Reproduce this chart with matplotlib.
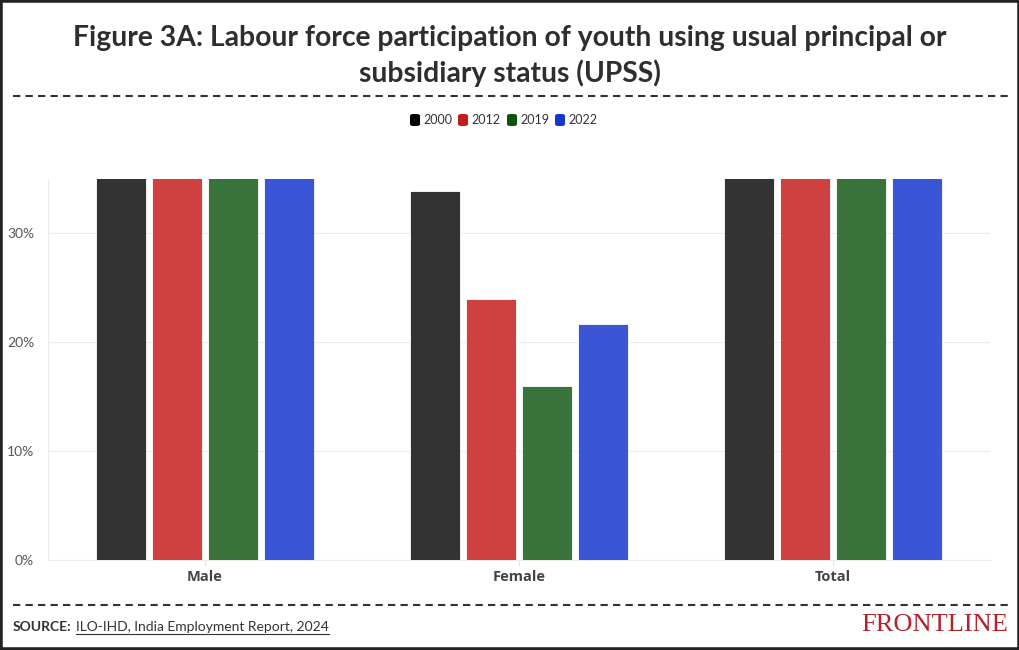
import matplotlib
matplotlib.use("Agg")
import matplotlib.pyplot as plt
import numpy as np
from matplotlib.lines import Line2D
from matplotlib.patches import Rectangle, FancyBboxPatch

categories = ["Male", "Female", "Total"]
years = ["2000", "2012", "2019", "2022"]
# values in percent (Male/Total exceed the 35% axis ceiling and are clipped)
lfpr_2000 = [61.5, 33.9, 47.6]
lfpr_2012 = [55.6, 24.0, 40.2]
lfpr_2019 = [56.2, 16.0, 36.9]
lfpr_2022 = [61.2, 21.7, 41.8]
series = [lfpr_2000, lfpr_2012, lfpr_2019, lfpr_2022]
yticks = [0, 10, 20, 30]

bar_colors = ["#333333", "#cf4141", "#3a733b", "#3a56d6"]
legend_colors = ["#000000", "#c41c1c", "#0b520b", "#1236cf"]

W, H = 1020, 650
fig = plt.figure(figsize=(W / 100, H / 100), dpi=100)
fig.patch.set_facecolor("white")

def fx(x): return x / W
def fy(y): return 1 - y / H

ax = fig.add_axes([fx(48), fy(560), fx(990) - fx(48), fy(179) - fy(560)])
x = np.arange(len(categories))
step = 0.1775
width = 0.159
for i, vals in enumerate(series):
    ax.bar(x + (i - 1.5) * step, vals, width=width, color=bar_colors[i],
           edgecolor="white", linewidth=0.6, zorder=3)
ax.set_xlim(-0.5, 2.5)
ax.set_ylim(0, 35)
ax.set_yticks(yticks)
ax.set_yticklabels([f"{v}%" for v in yticks], fontsize=10, color="#555555",
                   family=["Lato", "DejaVu Sans"])
ax.set_xticks(x)
ax.set_xticklabels(categories, fontsize=10.5, fontweight="bold", color="#444444",
                   family=["Open Sans", "DejaVu Sans"])
ax.tick_params(axis="y", length=0, pad=10)
ax.tick_params(axis="x", length=4, color="#e6e6e6", pad=3)
ax.grid(axis="y", color="#ececec", linewidth=0.8, zorder=0)
for s in ["top", "right"]:
    ax.spines[s].set_visible(False)
ax.spines["left"].set_color("#ececec")
ax.spines["bottom"].set_color("#ececec")

# title
fig.text(0.5, fy(38), "Figure 3A: Labour force participation of youth using usual principal or",
         ha="center", va="center", fontsize=20.3, fontweight="bold", color="#2e2e2e",
         family=["Lato", "DejaVu Sans"])
fig.text(0.5, fy(73), "subsidiary status (UPSS)",
         ha="center", va="center", fontsize=20.3, fontweight="bold", color="#2e2e2e",
         family=["Lato", "DejaVu Sans"])

# dashed separators
for yy in (96, 605):
    fig.add_artist(Line2D([fx(13), fx(1008)], [fy(yy), fy(yy)], transform=fig.transFigure,
                          color="#333333", linewidth=1.5, linestyle=(0, (3.5, 2.5))))

# legend
leg_x = [410, 458, 507, 555]
for xi, yr, c in zip(leg_x, years, legend_colors):
    fig.add_artist(FancyBboxPatch((fx(xi), fy(126)), fx(10) - fx(0), fy(114) - fy(126),
                                  boxstyle="round,pad=0,rounding_size=0.003",
                                  transform=fig.transFigure, facecolor=c, edgecolor="none"))
    fig.text(fx(xi + 13), fy(120.5), yr, ha="left", va="center", fontsize=9,
             color="#333333", family=["Lato", "DejaVu Sans"])

# source
t1 = fig.text(fx(13), fy(627), "SOURCE:", ha="left", va="center", fontsize=10,
              fontweight="bold", color="#333333", family=["Lato", "DejaVu Sans"])
fig.canvas.draw()
r = fig.canvas.get_renderer()
bb = t1.get_window_extent(r)
t2 = fig.text(bb.x1 / W + fx(4), fy(627), "ILO-IHD, India Employment Report, 2024",
              ha="left", va="center", fontsize=10, color="#333333",
              family=["Lato", "DejaVu Sans"])
fig.canvas.draw()
bb2 = t2.get_window_extent(r)
fig.add_artist(Line2D([bb2.x0 / W, bb2.x1 / W], [fy(634), fy(634)], transform=fig.transFigure,
                      color="#333333", linewidth=0.8))

fig.text(fx(1008), fy(625), "FRONTLINE", ha="right", va="center", fontsize=19,
         color="#b3232b", family=["Liberation Serif", "DejaVu Serif"])

# outer frame
fig.add_artist(Rectangle((0, 0), 1, 1, transform=fig.transFigure, fill=False,
                         edgecolor="#222222", linewidth=4))

fig.savefig("out.png", dpi=100)
